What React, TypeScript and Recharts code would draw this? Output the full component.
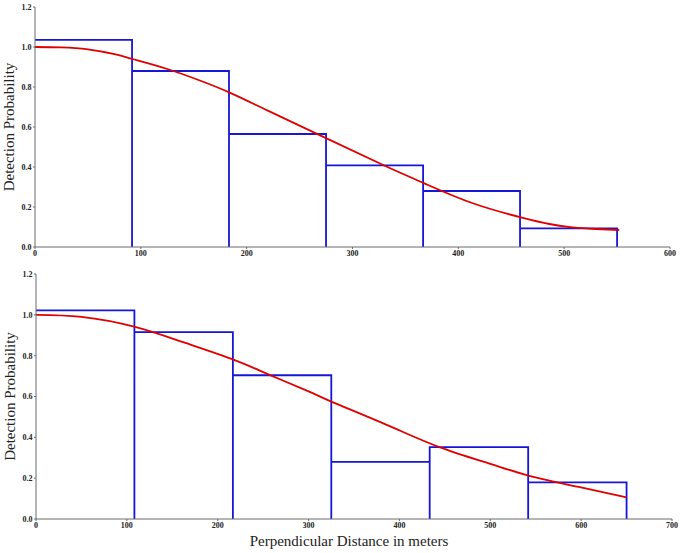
import React from "react"
import { ComposedChart, Line, XAxis, YAxis } from "recharts"

// histogram bins (edges + observed heights)
const soEdges = [0, 91.7, 183.3, 275, 366.7, 458.3, 550]
const soHeights = [1.036, 0.88, 0.565, 0.408, 0.28, 0.093]
const pvEdges = [0, 108.3, 216.7, 325, 433.3, 541.7, 650]
const pvHeights = [1.022, 0.915, 0.704, 0.28, 0.352, 0.179]

// fitted detection function
const soCurveX = [0, 25, 50, 75, 92, 125, 157, 184, 220, 276, 331, 368, 413, 460, 486, 508, 530, 552]
const soCurveY = [1.0, 0.998, 0.988, 0.964, 0.94, 0.89, 0.83, 0.772, 0.682, 0.542, 0.405, 0.318, 0.22, 0.147, 0.115, 0.098, 0.09, 0.085]
const pvCurveX = [0, 50, 108, 162, 216, 257, 300, 325, 386, 444, 500, 542, 596, 650]
const pvCurveY = [1.0, 0.99, 0.942, 0.866, 0.783, 0.706, 0.625, 0.575, 0.461, 0.352, 0.27, 0.213, 0.158, 0.106]

const yTicks = [0, 0.2, 0.4, 0.6, 0.8, 1.0, 1.2]
const soXTicks = [0, 100, 200, 300, 400, 500, 600]
const pvXTicks = [0, 100, 200, 300, 400, 500, 600, 700]

const FONT = "'Liberation Serif', 'DejaVu Serif', serif"
const AXIS = "#6b6b6b"
const BLUE = "#1616d8"
const RED = "#e00000"

function histOutline(edges: number[], heights: number[]) {
  const pts: { x: number; y: number }[] = []
  heights.forEach((h, i) => {
    pts.push({ x: edges[i], y: h })
    pts.push({ x: edges[i + 1], y: h })
    pts.push({ x: edges[i + 1], y: 0 })
  })
  return pts
}

function curve(xs: number[], ys: number[]) {
  return xs.map((x, i) => ({ x, y: ys[i] }))
}

const tickStyle = { fontSize: 8, fontWeight: 700, fill: "#222", fontFamily: FONT }

function Panel({
  width,
  height,
  margin,
  xMax,
  xTicks,
  xAxisHeight,
  yAxisWidth,
  hist,
  fit,
  tag,
  tagDy,
  yLabelX,
  showXLabel,
}: any) {
  return (
    <ComposedChart width={width} height={height} margin={margin} style={{ fontFamily: FONT }}>
      <XAxis
        dataKey="x"
        type="number"
        domain={[0, xMax]}
        ticks={xTicks}
        interval={0}
        height={xAxisHeight}
        axisLine={{ stroke: AXIS }}
        tickLine={{ stroke: AXIS }}
        tickSize={2}
        tickMargin={1}
        tick={tickStyle}
        label={
          showXLabel
            ? (props: any) => {
                const vb = props.viewBox
                return (
                  <text x={349} y={vb.y + 27} textAnchor="middle" fontSize={15} fill="#222" fontFamily={FONT}>
                    Perpendicular Distance in meters
                  </text>
                )
              }
            : undefined
        }
      />
      <XAxis
        xAxisId="top"
        orientation="top"
        type="number"
        domain={[0, xMax]}
        height={0}
        tick={false}
        tickLine={false}
        axisLine={{ stroke: AXIS }}
        label={(props: any) => {
          const vb = props.viewBox
          return (
            <text
              x={vb.x + vb.width - 7}
              y={vb.y + tagDy}
              textAnchor="end"
              fontSize={13}
              fontWeight={700}
              fill="#111"
              fontFamily={FONT}
            >
              {tag}
            </text>
          )
        }}
      />
      <YAxis
        type="number"
        domain={[0, 1.2]}
        ticks={yTicks}
        interval={0}
        width={yAxisWidth}
        axisLine={{ stroke: AXIS }}
        tickLine={{ stroke: AXIS }}
        tickSize={2}
        tickMargin={1.5}
        tick={tickStyle}
        tickFormatter={(v: number) => v.toFixed(1)}
        label={(props: any) => {
          const vb = props.viewBox
          const cy = vb.y + vb.height / 2
          return (
            <text
              x={yLabelX}
              y={cy}
              transform={`rotate(-90 ${yLabelX} ${cy})`}
              textAnchor="middle"
              fontSize={15}
              fill="#222"
              fontFamily={FONT}
            >
              Detection Probability
            </text>
          )
        }}
      />
      <YAxis
        yAxisId="right"
        orientation="right"
        type="number"
        domain={[0, 1.2]}
        width={0}
        tick={false}
        tickLine={false}
        axisLine={{ stroke: AXIS }}
      />
      <Line
        data={hist}
        dataKey="y"
        type="linear"
        stroke={BLUE}
        strokeWidth={1.8}
        dot={false}
        activeDot={false}
        isAnimationActive={false}
      />
      <Line
        data={fit}
        dataKey="y"
        type="natural"
        stroke={RED}
        strokeWidth={1.8}
        dot={false}
        activeDot={false}
        isAnimationActive={false}
      />
    </ComposedChart>
  )
}

export default function App() {
  return (
    <div style={{ position: "absolute", left: 0, top: 0, width: 680, height: 553, background: "#fff" }}>
      <Panel
        width={680}
        height={262}
        margin={{ top: 7, right: 10, bottom: 0, left: 0 }}
        xMax={600}
        xTicks={soXTicks}
        xAxisHeight={15}
        yAxisWidth={35}
        hist={histOutline(soEdges, soHeights)}
        fit={curve(soCurveX, soCurveY)}
        tag="SO"
        tagDy={16}
        yLabelX={14}
        showXLabel={false}
      />
      <Panel
        width={680}
        height={291}
        margin={{ top: 12, right: 8, bottom: 0, left: 0 }}
        xMax={700}
        xTicks={pvXTicks}
        xAxisHeight={34}
        yAxisWidth={36}
        hist={histOutline(pvEdges, pvHeights)}
        fit={curve(pvCurveX, pvCurveY)}
        tag="PV"
        tagDy={17}
        yLabelX={15}
        showXLabel={true}
      />
    </div>
  )
}
